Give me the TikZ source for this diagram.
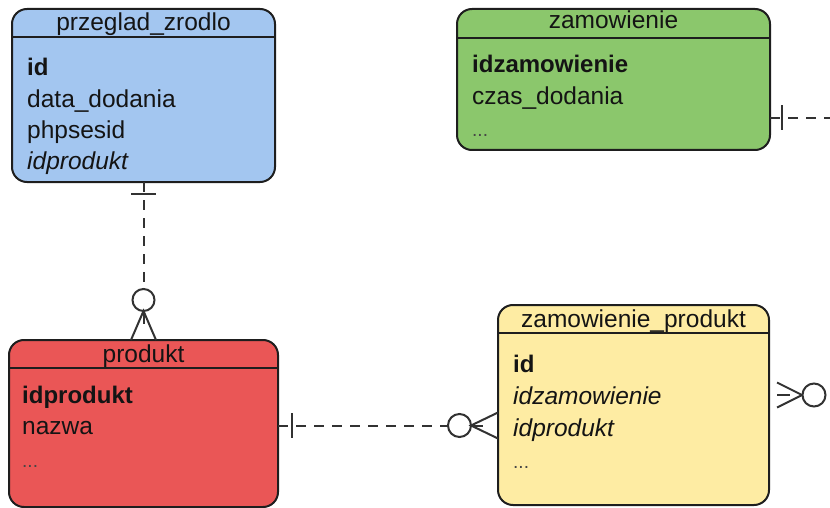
\documentclass[tikz,border=0pt]{standalone}
\usepackage{fontspec}
\setmainfont{Liberation Sans}
\usetikzlibrary{calc}

\definecolor{pzfill}{RGB}{163,198,240}
\definecolor{zamfill}{RGB}{139,199,108}
\definecolor{prodfill}{RGB}{234,86,86}
\definecolor{zpfill}{RGB}{254,236,163}
\definecolor{boxline}{RGB}{30,30,30}
\definecolor{relline}{RGB}{50,50,50}
\definecolor{ink}{RGB}{20,20,20}
\definecolor{dotink}{RGB}{70,70,70}

\begin{document}
\begin{tikzpicture}[x=1pt,y=-1pt,
  entity/.style={draw=boxline, line width=2pt, rounded corners=15pt, inner sep=0pt, outer sep=0pt},
  headline/.style={draw=boxline, line width=2pt},
  title/.style={anchor=base, inner sep=0pt, text=ink, font=\fontsize{24.5}{28}\selectfont},
  field/.style={anchor=base west, inner sep=0pt, text=ink, font=\fontsize{24.5}{28}\selectfont},
  keyfield/.style={field, font=\fontsize{24}{28}\selectfont\bfseries},
  fkfield/.style={field, font=\fontsize{24.5}{28}\selectfont\itshape},
  dots/.style={field, text=dotink, font=\fontsize{19}{22}\selectfont},
  rel/.style={draw=relline, line width=2pt, dash pattern=on 10pt off 8pt},
  relmark/.style={draw=relline, line width=2pt, solid},
]
\useasboundingbox (0,0) rectangle (830,508);

% ---- entities ----
\node[entity, fill=pzfill,   minimum width=263pt, minimum height=173pt] (pz)   at (143.5,95.5) {};
\node[entity, fill=zamfill,  minimum width=313pt, minimum height=141pt] (zam)  at (613.5,79.5) {};
\node[entity, fill=prodfill, minimum width=269pt, minimum height=167pt] (prod) at (143.5,423.5) {};
\node[entity, fill=zpfill,   minimum width=271pt, minimum height=200pt] (zp)   at (633.5,405) {};

% header separators
\draw[headline] (pz.west |- 0,37)    -- (pz.east |- 0,37);
\draw[headline] (zam.west |- 0,38)   -- (zam.east |- 0,38);
\draw[headline] (prod.west |- 0,368) -- (prod.east |- 0,368);
\draw[headline] (zp.west |- 0,333)   -- (zp.east |- 0,333);

% przeglad_zrodlo
\node[title]    (pzT)  at (143.5,31) {przeglad\_zrodlo};
\node[keyfield] (pzA)  at (27,76)    {id};
\node[field]    (pzB)  at (27,108)   {data\_dodania};
\node[field]    (pzC)  at (27,139)   {phpsesid};
\node[fkfield]  (pzD)  at (27,170)   {idprodukt};

% zamowienie
\node[title]    (zamT) at (613.5,29) {zamowienie};
\node[keyfield] (zamA) at (472,73)   {idzamowienie};
\node[field]    (zamB) at (472,104.5) {czas\_dodania};
\node[dots]     (zamC) at (472,137)  {...};

% produkt
\node[title]    (prodT) at (143.5,362) {produkt};
\node[keyfield] (prodA) at (22,403)    {idprodukt};
\node[field]    (prodB) at (22,434.5)  {nazwa};
\node[dots]     (prodC) at (22,467)    {...};

% zamowienie_produkt
\node[title]    (zpT) at (633.5,327) {zamowienie\_produkt};
\node[keyfield] (zpA) at (513,372)   {id};
\node[fkfield]  (zpB) at (513,404)   {idzamowienie};
\node[fkfield]  (zpC) at (513,436)   {idprodukt};
\node[dots]     (zpD) at (513,468)   {...};

% ---- relationships ----
% przeglad_zrodlo (one) -> produkt (zero or many)
\draw[rel] (pz.south) -- ($(prod.north)+(0,-51)$);
\draw[relmark] ($(pz.south)+(-12.5,12)$) -- ($(pz.south)+(12.5,12)$);
\draw[relmark, fill=white] ($(prod.north)+(0,-40)$) circle[radius=11pt];
\draw[relmark] ($(prod.north)+(-12.5,0)$) -- ($(prod.north)+(0,-29)$) -- ($(prod.north)+(12.5,0)$);
\draw[relmark] ($(prod.north)+(0,-29)$) -- ++(0,13);

% produkt (one) -> zamowienie_produkt (zero or many)
\coordinate (prodR) at ($(prod.east)+(0,2)$);
\coordinate (zpL) at (zp.west |- prodR);
\draw[rel] (prodR) -- ($(zpL)+(-50,0)$);
\draw[relmark] ($(prodR)+(14,-12.5)$) -- ($(prodR)+(14,12.5)$);
\draw[relmark, fill=white] ($(zpL)+(-38.5,0)$) circle[radius=11.5pt];
\draw[relmark] ($(zpL)+(0,-13)$) -- ($(zpL)+(-27,0)$) -- ($(zpL)+(0,13)$);
\draw[relmark] ($(zpL)+(-27,0)$) -- ++(12,0);

% zamowienie (one) -> outgoing
\coordinate (zamR) at ($(zam.south east)+(0,-32)$);
\coordinate (zamOut) at (831,118);
\draw[rel] (zamR) -- (zamOut);
\draw[relmark] ($(zamR)+(12,-12.5)$) -- ($(zamR)+(12,12.5)$);

% incoming (zero or many) at zamowienie_produkt
\coordinate (zpR) at ($(zp.east)+(8,-10)$);
\draw[relmark] ($(zpR)+(0,-12.5)$) -- ($(zpR)+(25,0)$) -- ($(zpR)+(0,12.5)$);
\draw[relmark] (zpR) -- ++(13,0);
\draw[relmark, fill=white] ($(zpR)+(37,0)$) circle[radius=11.5pt];

\end{tikzpicture}
\end{document}
